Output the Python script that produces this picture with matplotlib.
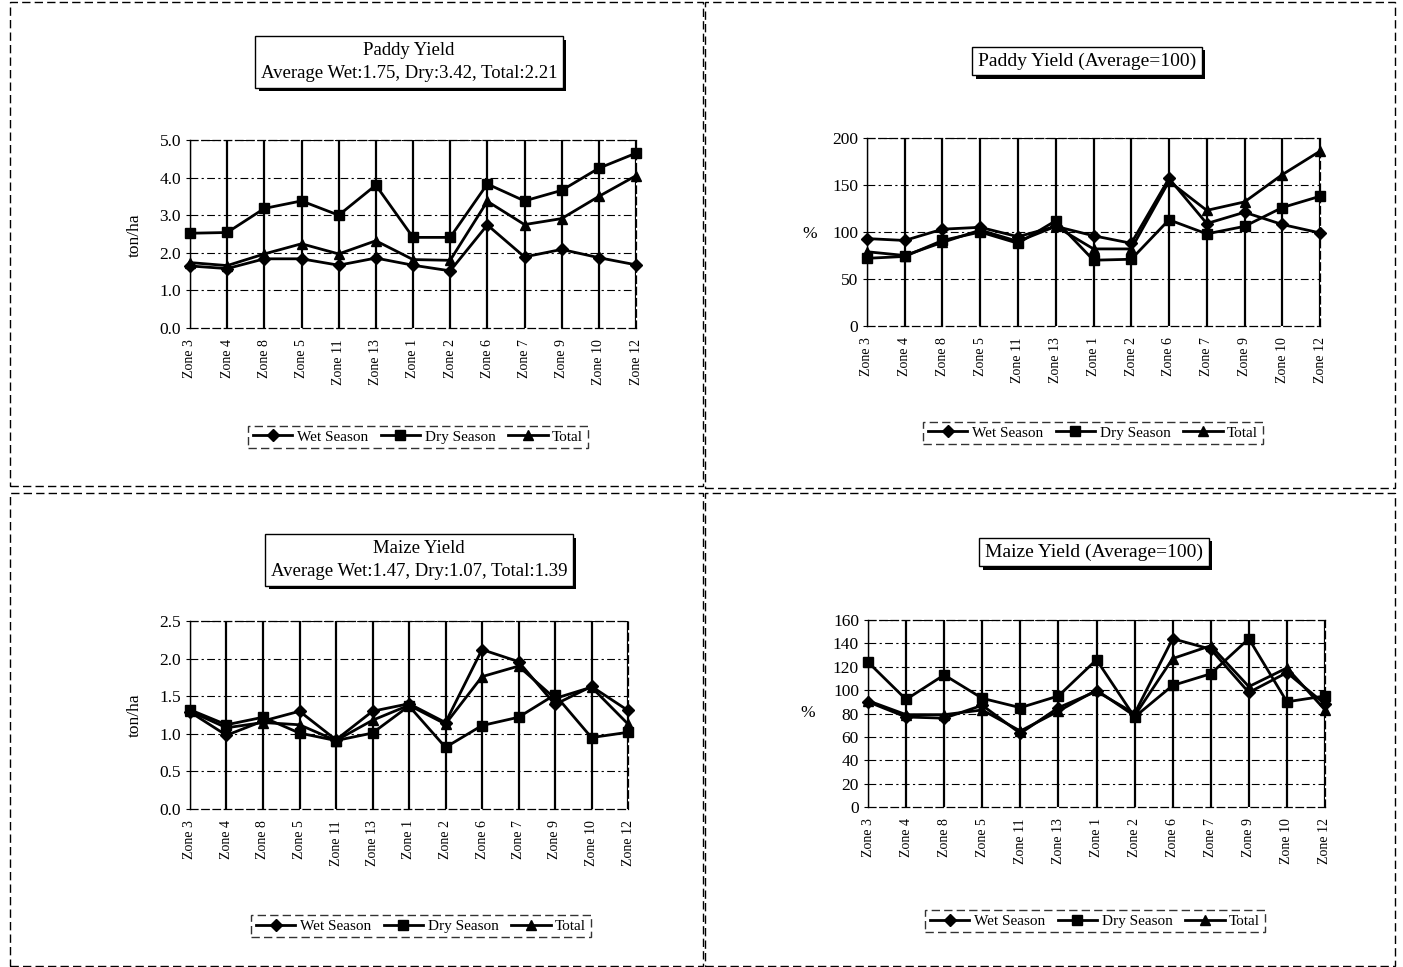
import matplotlib
matplotlib.use("Agg")
import matplotlib.pyplot as plt
import matplotlib.patheffects as pe
from matplotlib.patches import Rectangle
from matplotlib.lines import Line2D

plt.rcParams['font.family'] = ['Liberation Serif', 'DejaVu Serif']

zones = ["Zone 3", "Zone 4", "Zone 8", "Zone 5", "Zone 11", "Zone 13", "Zone 1",
         "Zone 2", "Zone 6", "Zone 7", "Zone 9", "Zone 10", "Zone 12"]

paddy_wet = [1.65, 1.58, 1.84, 1.84, 1.67, 1.86, 1.67, 1.52, 2.74, 1.89, 2.09, 1.87, 1.68]
paddy_dry = [2.52, 2.54, 3.18, 3.38, 3.00, 3.80, 2.41, 2.41, 3.83, 3.38, 3.66, 4.25, 4.65]
paddy_total = [1.74, 1.66, 1.97, 2.24, 1.97, 2.32, 1.82, 1.80, 3.37, 2.75, 2.91, 3.50, 4.05]

paddy_idx_wet = [93, 91, 103, 105, 95, 106, 96, 88, 157, 109, 121, 108, 99]
paddy_idx_dry = [72, 74, 91, 100, 88, 112, 70, 71, 113, 98, 106, 126, 138]
paddy_idx_total = [79, 75, 89, 102, 90, 106, 82, 82, 154, 123, 132, 161, 186]

maize_wet = [1.29, 0.98, 1.17, 1.30, 0.92, 1.30, 1.40, 1.15, 2.12, 1.96, 1.39, 1.63, 1.31]
maize_dry = [1.32, 1.12, 1.22, 1.01, 0.91, 1.01, 1.37, 0.82, 1.11, 1.22, 1.52, 0.95, 1.02]
maize_total = [1.30, 1.08, 1.15, 1.12, 0.91, 1.18, 1.38, 1.13, 1.76, 1.90, 1.47, 1.62, 1.13]

maize_idx_wet = [90, 77, 76, 87, 63, 85, 99, 80, 144, 135, 98, 115, 88]
maize_idx_dry = [124, 92, 113, 93, 85, 95, 126, 77, 104, 114, 144, 90, 95]
maize_idx_total = [91, 79, 79, 83, 65, 82, 100, 78, 127, 138, 103, 119, 83]

series_labels = ["Wet Season", "Dry Season", "Total"]

W, H = 1403, 967
fig = plt.figure(figsize=(W / 100, H / 100), dpi=100)


def rect(x0, x1, yt, yb):
    return [x0 / W, 1 - yb / H, (x1 - x0) / W, (yb - yt) / H]


def fx(x):
    return x / W


def fy(y):
    return 1 - y / H


# panel borders
for (x0, y0, x1, y1) in [(10, 2, 703, 486), (705, 2, 1395, 488),
                         (10, 493, 703, 966), (705, 493, 1395, 966)]:
    fig.patches.append(Rectangle((fx(x0), fy(y1)), fx(x1) - fx(x0), fy(y0) - fy(y1),
                                 transform=fig.transFigure, fill=False,
                                 edgecolor='black', linewidth=1.0,
                                 linestyle=(0, (6, 3))))

markers = ['D', 's', '^']
msizes = [6, 6.5, 7.5]


def panel(r, wet, dry, total, ymax, ystep, fmt, title, title_xy, title_fs, ylabel,
          ylabel_xy, ylabel_rot, legend_xy):
    ax = fig.add_axes(rect(*r))
    x = list(range(len(zones)))
    for i, vals in enumerate([wet, dry, total]):
        ax.plot(x, vals, color='black', linewidth=2.0, marker=markers[i],
                markersize=msizes[i], clip_on=False, zorder=5)
    ax.set_xlim(0, len(zones) - 1)
    ax.set_ylim(0, ymax)
    ticks = []
    v = 0.0
    while v <= ymax + 1e-9:
        ticks.append(round(v, 3))
        v += ystep
    ax.set_yticks(ticks)
    ax.set_yticklabels([fmt % t for t in ticks], fontsize=12.5)
    ax.set_xticks(x)
    ax.set_xticklabels(zones, rotation=90, fontsize=10)
    for xi in x:
        ax.axvline(xi, color='black', linewidth=1.6, zorder=1)
    for t in ticks[1:]:
        ax.axhline(t, color='black', linewidth=0.8, linestyle=(0, (7, 3, 2, 3)), zorder=1)
    for s in ['top', 'right', 'bottom']:
        ax.spines[s].set_linestyle((0, (6, 3)))
        ax.spines[s].set_linewidth(0.9)
    ax.spines['left'].set_linewidth(1.0)
    ax.tick_params(axis='both', length=3, width=0.8, colors='black')
    ax.tick_params(axis='x', length=0, pad=8)

    t = fig.text(fx(title_xy[0]), fy(title_xy[1]), title, ha='center', va='center',
                 fontsize=title_fs, linespacing=1.5,
                 bbox=dict(boxstyle='square,pad=0.3', facecolor='white',
                           edgecolor='black', linewidth=1.0))
    t.get_bbox_patch().set_path_effects([
        pe.SimplePatchShadow(offset=(2.5, -2.5), shadow_rgbFace='black', alpha=1.0),
        pe.Normal()])

    fig.text(fx(ylabel_xy[0]), fy(ylabel_xy[1]), ylabel, ha='center', va='center',
             rotation=ylabel_rot, fontsize=12.5)

    handles = [Line2D([], [], color='black', linewidth=2.0, marker=markers[i],
                      markersize=msizes[i]) for i in range(3)]
    leg = fig.legend(handles, series_labels, loc='center',
                     bbox_to_anchor=(fx(legend_xy[0]), fy(legend_xy[1])),
                     ncol=3, fontsize=11, frameon=True, fancybox=False,
                     edgecolor='black', handlelength=2.6, handletextpad=0.3,
                     columnspacing=0.8, borderpad=0.3, borderaxespad=0)
    leg.get_frame().set_linestyle((0, (6, 3)))
    leg.get_frame().set_linewidth(1.0)
    return ax


panel((190, 636, 140, 328), paddy_wet, paddy_dry, paddy_total, 5.0, 1.0, "%.1f",
      "Paddy Yield\nAverage Wet:1.75, Dry:3.42, Total:2.21", (409, 62), 13.5,
      "ton/ha", (135, 235), 90, (418, 437))

panel((867, 1320, 138, 326), paddy_idx_wet, paddy_idx_dry, paddy_idx_total, 200, 50, "%d",
      "Paddy Yield (Average=100)", (1087, 61), 14,
      "%", (810, 234), 0, (1093, 433))

panel((190, 628, 621, 809), maize_wet, maize_dry, maize_total, 2.5, 0.5, "%.1f",
      "Maize Yield\nAverage Wet:1.47, Dry:1.07, Total:1.39", (419, 560), 13.5,
      "ton/ha", (135, 715), 90, (421, 926))

panel((868, 1325, 620, 807), maize_idx_wet, maize_idx_dry, maize_idx_total, 160, 20, "%d",
      "Maize Yield (Average=100)", (1094, 552), 14,
      "%", (808, 713), 0, (1095, 921))

fig.savefig("out.png", dpi=100, facecolor='white')
